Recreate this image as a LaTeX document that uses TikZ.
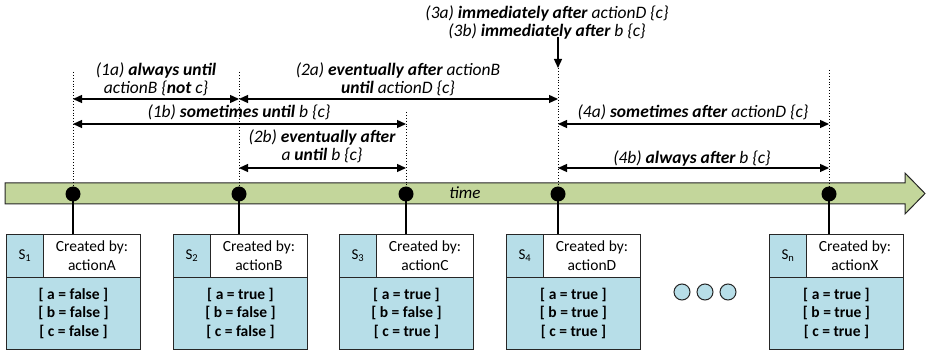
\documentclass[tikz,border=0pt]{standalone}
\usepackage{fontspec}
\setmainfont{Carlito}
\usetikzlibrary{arrows.meta}
\definecolor{barg}{HTML}{C3D69B}
\definecolor{boxb}{HTML}{B7DEE8}
\begin{document}
\begin{tikzpicture}[x=1pt,y=-1pt,
  lbl/.style={font=\fontsize{17.5}{18}\selectfont\itshape, align=center, inner sep=0pt},
  dimarrow/.style={{Triangle[length=9pt,width=8pt]}-{Triangle[length=9pt,width=8pt]}, line width=1.3pt},
  onearrow/.style={-{Triangle[length=9pt,width=8pt]}, line width=1.3pt},
  guide/.style={dotted, line width=0.9pt},
  tdot/.style={circle, fill=black, minimum size=15pt, inner sep=0pt},
  conn/.style={line width=1.2pt},
  idcell/.style={draw=black!85, line width=0.9pt, fill=boxb, minimum width=37pt, minimum height=43pt, inner sep=0pt, anchor=north west, font=\fontsize{15}{16}\selectfont},
  hdrcell/.style={draw=black!85, line width=0.9pt, fill=white, minimum width=97pt, minimum height=43pt, inner sep=0pt, anchor=north west, align=center, font=\fontsize{15.5}{19}\selectfont},
  bodycell/.style={draw=black!85, line width=0.9pt, fill=boxb, minimum width=134pt, minimum height=72pt, inner sep=0pt, anchor=north west, align=center, font=\fontsize{15.5}{18.5}\selectfont\bfseries},
  more/.style={circle, draw=black!85, line width=1pt, fill=boxb, minimum size=16pt, inner sep=0pt}
]
\useasboundingbox (0,0) rectangle (926,352);

% timeline
\draw[fill=barg, draw=black!85, line width=1pt]
  (5,183) -- (905,183) -- (905,173) -- (925,193.5) -- (905,214) -- (905,204) -- (5,204) -- cycle;
\node[font=\fontsize{17}{18}\selectfont\itshape] (time) at (465,193) {time};

% state boxes
\foreach \i/\x/\sub/\act/\va/\vb/\vc in {
  1/6/1/actionA/false/false/false,
  2/173/2/actionB/true/false/false,
  3/339/3/actionC/true/false/true,
  4/506/4/actionD/true/true/true,
  n/769/n/actionX/true/true/true} {
  \node[idcell] (id\i) at (\x,234) {S\textsubscript{\sub}};
  \node[hdrcell] (hd\i) at (\x+37,234) {Created by:\\\act};
  \node[bodycell] (bd\i) at (\x,277) {{[} a = \va\ {]}\\{[} b = \vb\ {]}\\{[} c = \vc\ {]}};
}

% time points
\node[tdot] (d1) at (73,194) {};
\node[tdot] (d2) at (239,194) {};
\node[tdot] (d3) at (406,194) {};
\node[tdot] (dn4) at (558,194) {};
\node[tdot] (d5) at (829,194) {};

\draw[conn] (d1.center) -- (d1 |- hd1.north);
\draw[conn] (d2.center) -- (d2 |- hd2.north);
\draw[conn] (d3.center) -- (d3 |- hd3.north);
\draw[conn] (dn4.center) -- (dn4 |- hd4.north);
\draw[conn] (d5.center) -- (d5 |- hdn.north);

% ellipsis
\node[more] (e1) at (682,292) {};
\node[more] (e2) at (705,292) {};
\node[more] (e3) at (728,292) {};

% guides
\coordinate (g1) at (73,72);
\coordinate (g2) at (239,72);
\coordinate (g3) at (406,112);
\coordinate (g4) at (558,68);
\coordinate (g5) at (829,70);
\coordinate (a3top) at (558,37);
\draw[guide] (g1) -- (d1.center);
\draw[guide] (g2) -- (d2.center);
\draw[guide] (g3) -- (d3.center);
\draw[guide] (g4) -- (dn4.center);
\draw[guide] (g5) -- (d5.center);

% arrow end points
\coordinate (p1a) at (73,99);   \coordinate (q1a) at (239,99);
\coordinate (p2a) at (239,99);  \coordinate (q2a) at (558,99);
\coordinate (p1b) at (73,124);  \coordinate (q1b) at (406,124);
\coordinate (p2b) at (239,168); \coordinate (q2b) at (406,168);
\coordinate (p4a) at (558,124); \coordinate (q4a) at (829,124);
\coordinate (p4b) at (558,168); \coordinate (q4b) at (829,168);

\draw[dimarrow] (p1a) -- (q1a);
\draw[dimarrow] (p2a) -- (q2a);
\draw[dimarrow] (p1b) -- (q1b);
\draw[dimarrow] (p2b) -- (q2b);
\draw[dimarrow] (p4a) -- (q4a);
\draw[dimarrow] (p4b) -- (q4b);
\draw[onearrow] (a3top) -- (g4);

% labels
\node[lbl] (l1a) at (156,79) {(1a) \textbf{always until}\\actionB \{\textbf{not} c\}};
\node[lbl] (l2a) at (398,79) {(2a) \textbf{eventually after} actionB\\\textbf{until} actionD \{c\}};
\node[lbl] (l1b) at (239,112) {(1b) \textbf{sometimes until} b \{c\}};
\node[lbl] (l2b) at (322,146) {(2b) \textbf{eventually after}\\a \textbf{until} b \{c\}};
\node[lbl] (l3) at (547,22) {(3a) \textbf{immediately after} actionD \{c\}\\(3b) \textbf{immediately after} b \{c\}};
\node[lbl] (l4a) at (693,112) {(4a) \textbf{sometimes after} actionD \{c\}};
\node[lbl] (l4b) at (692,158) {(4b) \textbf{always after} b \{c\}};
\end{tikzpicture}
\end{document}
